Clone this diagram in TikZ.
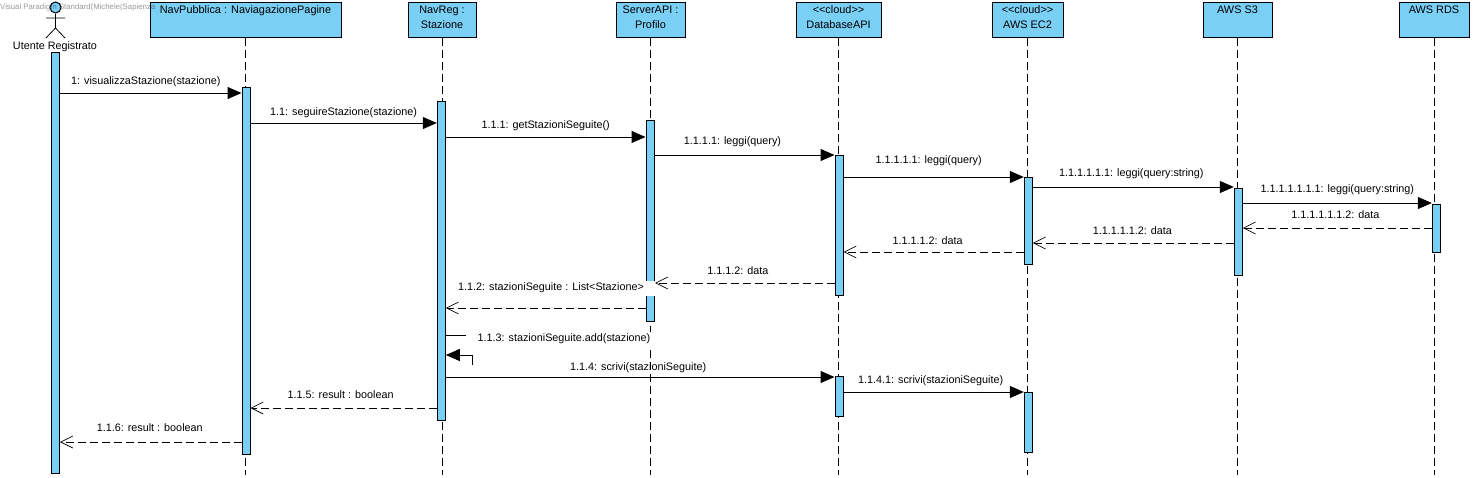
\documentclass[tikz,border=0pt]{standalone}
\usepackage{fontspec}
\setmainfont{Liberation Sans}
\usepackage{tikz}
\usetikzlibrary{arrows.meta, calc, positioning}
\definecolor{vpblue}{RGB}{122, 207, 245}
\tikzset{
    boxnode/.style = {draw, rectangle, fill=vpblue, line width=1pt, inner sep=0pt, minimum height=35pt, align=center, text depth=5pt, font=\fontsize{10.9}{15}\selectfont},
    activenode/.style = {draw, rectangle, fill=vpblue, line width=1pt, inner sep=0pt, minimum width=8pt},
    msgnode/.style = {inner sep=0pt, font=\fontsize{10.8}{12}\selectfont},
    whitenode/.style = {msgnode, fill=white, inner xsep=11pt, minimum height=15pt},
    lifeline/.style = {line width=1pt, dash pattern=on 8pt off 4pt},
    callarrow/.style = {line width=1pt, -{Triangle[length=14pt, width=12pt]}},
    backarrow/.style = {line width=1pt, dash pattern=on 8pt off 4pt, -{Straight Barb[length=12pt, width=12pt, line width=0.7pt]}}
}
\begin{document}
\begin{tikzpicture}[x=1pt, y=-1pt]
    \useasboundingbox (0,0) rectangle (1475,477);
    % lifeline heads
    \node [name = NavPub, boxnode, minimum width=191pt] at (245.5,19.5) {NavPubblica : NaviagazionePagine\\~};
    \node [name = NavReg, boxnode, minimum width=68pt] at (442,19.5) {NavReg :\\Stazione};
    \node [name = Server, boxnode, minimum width=69pt] at (650.5,19.5) {ServerAPI :\\Profilo};
    \node [name = DbApi, boxnode, minimum width=85pt] at (838.5,19.5) {<{}<cloud>{}>\\DatabaseAPI};
    \node [name = Ec2, boxnode, minimum width=71pt] at (1027.5,19.5) {<{}<cloud>{}>\\AWS EC2};
    \node [name = S3, boxnode, minimum width=69pt] at (1237.5,19.5) {AWS S3\\~};
    \node [name = Rds, boxnode, minimum width=70pt] at (1434,19.5) {AWS RDS\\~};

    % actor
    \node [name = Head, circle, draw, fill=vpblue, line width=1pt, minimum size=11pt, inner sep=0pt] at (55.5,7.5) {};
    \coordinate (Neck) at (55.5,28);
    \coordinate (ArmL) at (46,18);
    \coordinate (ArmR) at (65,18);
    \coordinate (LegL) at (46,38);
    \coordinate (LegR) at (65,38);
    \draw [line width=0.8pt] (Head) -- (Neck) (ArmL) -- (ArmR) (LegL) -- (Neck) -- (LegR);
    \node [name = Utente, msgnode] at (55,46.5) {Utente Registrato};
    \node [name = WaterMark, anchor=west, inner sep=0pt, text=black, text opacity=0.4, font=\fontsize{7.8}{9}\selectfont] at (0,7.5) {Visual Paradigm Standard(Michele(Sapienza};

    % dashed lines
    \foreach \from in {NavPub, NavReg, Server, DbApi, Ec2, S3, Rds}
        \coordinate (\from End) at (\from.south |- 0,475);
    \foreach \from in {NavPub, NavReg, Server, DbApi, Ec2, S3, Rds}
        \draw [lifeline] (\from.south) -- (\from End);

    % activation bars
    \foreach \name/\x/\top/\bot in {a0/55.5/52/473, a1/246/87/454, a2/441.3/101/420, a3/650/120/321, a4/839/155/295, a5/839/376/416, a6/1028.3/177/264, a7/1028.3/392/452, a8/1238.3/188/275, a9/1436.3/204/252}
        \node [name = \name, activenode, minimum height={\bot-\top}] at (\x,{(\top+\bot)/2}) {};

    % message rows
    \foreach \row/\y in {m1/93, m2/123, m3/137, m4/155, m5/177, m6/187, m7/203, m8/228, m9/243, m10/252, m11/283, m12/308, m13/335, m14/355, m15/377, m16/392, m17/408, m18/442}
        \coordinate (\row) at (0,\y);

    \node [name = l12, whitenode] at (551,288) {1.1.2: stazioniSeguite : List<Stazione>};
    \node [name = l13, whitenode] at (564,339) {1.1.3: stazioniSeguite.add(stazione)};

    \draw [callarrow] (a0.east |- m1) -- (a1.west |- m1) node [msgnode, midway, xshift=-5pt, yshift=11pt] {1: visualizzaStazione(stazione)};
    \draw [callarrow] (a1.east |- m2) -- (a2.west |- m2) node [msgnode, midway, yshift=10pt] {1.1: seguireStazione(stazione)};
    \draw [callarrow] (a2.east |- m3) -- (a3.west |- m3) node [msgnode, midway, yshift=11pt] {1.1.1: getStazioniSeguite()};
    \draw [callarrow] (a3.east |- m4) -- (a4.west |- m4) node [msgnode, midway, xshift=-12pt, yshift=13pt] {1.1.1.1: leggi(query)};
    \draw [callarrow] (a4.east |- m5) -- (a6.west |- m5) node [msgnode, midway, xshift=-5pt, yshift=16pt] {1.1.1.1.1: leggi(query)};
    \draw [callarrow] (a6.east |- m6) -- (a8.west |- m6) node [msgnode, midway, xshift=-2pt, yshift=13pt] {1.1.1.1.1.1: leggi(query:string)};
    \draw [callarrow] (a8.east |- m7) -- (a9.west |- m7) node [msgnode, midway, yshift=13pt] {1.1.1.1.1.1.1: leggi(query:string)};
    \draw [backarrow] (a9.west |- m8) -- (a8.east |- m8) node [msgnode, midway, xshift=-2pt, yshift=13pt] {1.1.1.1.1.1.2: data};
    \draw [backarrow] (a8.west |- m9) -- (a6.east |- m9) node [msgnode, midway, xshift=-1pt, yshift=12pt] {1.1.1.1.1.2: data};
    \draw [backarrow] (a6.west |- m10) -- (a4.east |- m10) node [msgnode, midway, xshift=-6pt, yshift=11pt] {1.1.1.1.2: data};
    \draw [backarrow] (a4.west |- m11) -- (l12.east |- m11) node [msgnode, midway, xshift=-7pt, yshift=12pt] {1.1.1.2: data};
    \draw [backarrow] (a3.west |- m12) -- (a2.east |- m12);

    \draw [line width=1pt] (a2.east |- m13) -- (l13.west |- m13);
    \draw [callarrow] (l13.west |- m14) ++(6pt,-10pt) |- (a2.east |- m14);

    \draw [callarrow] (a2.east |- m15) -- (a4.west |- m15) node [msgnode, midway, xshift=-2pt, yshift=9pt] {1.1.4: scrivi(stazioniSeguite)};
    \draw [callarrow] (a5.east |- m16) -- (a7.west |- m16) node [msgnode, midway, xshift=-3pt, yshift=11pt] {1.1.4.1: scrivi(stazioniSeguite)};
    \draw [backarrow] (a2.west |- m17) -- (a1.east |- m17) node [msgnode, midway, xshift=-3pt, yshift=13pt] {1.1.5: result : boolean};
    \draw [backarrow] (a1.west |- m18) -- (a0.east |- m18) node [msgnode, midway, xshift=-1pt, yshift=14pt] {1.1.6: result : boolean};
\end{tikzpicture}
\end{document}
